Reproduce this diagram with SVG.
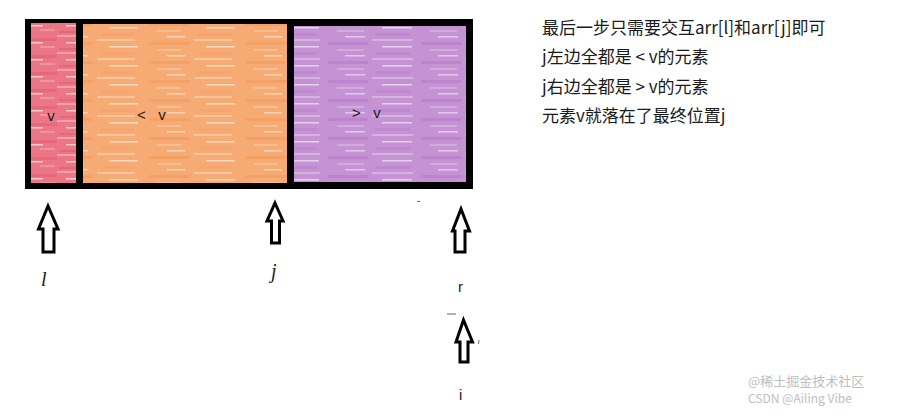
<svg xmlns="http://www.w3.org/2000/svg" width="914" height="416" viewBox="0 0 914 416">
<defs>
<pattern id="pRed" patternUnits="userSpaceOnUse" width="57" height="17">
<rect width="57" height="17" fill="#ea7686"/>
<rect x="0" y="1" width="23" height="2" fill="#f5b5bf" opacity="0.7"/>
<rect x="31" y="4" width="26" height="3" fill="#e25f72" opacity="0.6"/>
<rect x="9" y="8" width="34" height="1.5" fill="#fbe0e4" opacity="0.8"/>
<rect x="40" y="12" width="15" height="2" fill="#f2a0ab" opacity="0.7"/>
<rect x="2" y="14" width="20" height="2" fill="#e05a6d" opacity="0.5"/>
</pattern>
<pattern id="pOrange" patternUnits="userSpaceOnUse" width="97" height="19">
<rect width="97" height="19" fill="#f7ab74"/>
<rect x="0" y="1" width="38" height="2" fill="#fbcfae" opacity="0.7"/>
<rect x="52" y="4" width="41" height="3" fill="#f39a5c" opacity="0.6"/>
<rect x="12" y="8" width="29" height="1.5" fill="#fde6d4" opacity="0.8"/>
<rect x="60" y="11" width="24" height="2" fill="#fac49c" opacity="0.7"/>
<rect x="4" y="14" width="33" height="3" fill="#f4a066" opacity="0.5"/>
<rect x="70" y="17" width="18" height="1.5" fill="#fde6d4" opacity="0.7"/>
</pattern>
<pattern id="pPurple" patternUnits="userSpaceOnUse" width="93" height="19">
<rect width="93" height="19" fill="#c593d3"/>
<rect x="0" y="1" width="41" height="2" fill="#dcc0e6" opacity="0.7"/>
<rect x="49" y="4" width="40" height="3" fill="#b57ac8" opacity="0.6"/>
<rect x="10" y="8" width="30" height="1.5" fill="#eee0f3" opacity="0.8"/>
<rect x="58" y="11" width="27" height="2" fill="#d7b6e2" opacity="0.7"/>
<rect x="3" y="14" width="35" height="3" fill="#b97fcb" opacity="0.5"/>
<rect x="66" y="17" width="20" height="1.5" fill="#eee0f3" opacity="0.7"/>
</pattern>
</defs>
<style>
.arrow{fill:#ffffff;stroke:#000000;stroke-width:3;stroke-linejoin:miter}
.cell{font-family:"Liberation Sans","Noto Sans CJK SC",sans-serif;font-size:15px;fill:#1a1a1a;white-space:pre}
.var{font-family:"Liberation Serif",serif;font-style:italic;font-size:20px;fill:#222}
.lab{font-family:"Liberation Sans",sans-serif;font-size:15px;fill:#222}
.note{font-family:"Noto Sans CJK SC","Liberation Sans",sans-serif;font-size:17px;fill:#1a1a1a}
.wm{font-family:"Noto Sans CJK SC","Liberation Sans",sans-serif;fill:#b4b4b4;opacity:0.85}
</style>
<g id="array">
<rect x="25" y="19" width="448" height="170" fill="#000"/>
<g id="cell-v">
<rect x="31" y="23" width="45" height="160" fill="url(#pRed)"/>
<text class="cell" x="51" y="121" text-anchor="middle">v</text>
</g>
<g id="cell-less">
<rect x="83" y="24" width="204" height="159" fill="url(#pOrange)"/>
<text class="cell" x="137" y="120" xml:space="preserve">&lt;   v</text>
</g>
<g id="cell-greater">
<rect x="294" y="26" width="172" height="156" fill="url(#pPurple)"/>
<text class="cell" x="352" y="118" xml:space="preserve">&gt;   v</text>
</g>
</g>
<g id="connectors">
<path class="arrow" d="M48,206 L58,229 L54,229 L54,252 L43,252 L43,229 L38.5,229 Z"/>
<path class="arrow" d="M275,203 L283,221 L279.5,221 L279.5,243 L271.5,243 L271.5,221 L267,221 Z"/>
<path class="arrow" d="M461,209 L469.5,231 L465,231 L465,252 L455,252 L455,231 L452.5,231 Z"/>
<path class="arrow" d="M463.5,320 L472.5,342 L468,342 L468,362 L460,362 L460,342 L456,342 Z"/>
</g>
<g id="pointer-labels">
<text class="var" x="41" y="286">l</text>
<text class="var" x="271" y="278">j</text>
<text class="lab" x="458" y="292">r</text>
<text class="lab" x="459" y="400">i</text>
</g>
<g id="marks" stroke="#666" stroke-width="1">
<line x1="417" y1="201.5" x2="420" y2="201.5"/>
<line x1="447" y1="314" x2="456" y2="314"/>
<line x1="479" y1="340" x2="478.5" y2="344"/>
</g>
<g id="notes">
<text class="note" x="542" y="34">最后一步只需要交互arr[l]和arr[j]即可</text>
<text class="note" x="542" y="63">j左边全都是 &lt; v的元素</text>
<text class="note" x="542" y="93">j右边全都是 &gt; v的元素</text>
<text class="note" x="542" y="122">元素v就落在了最终位置j</text>
</g>
<g id="watermark">
<text class="wm" x="748" y="386" font-size="13">@稀土掘金技术社区</text>
<text class="wm" x="748" y="403" font-size="12">CSDN @Ailing Vibe</text>
</g>
</svg>
